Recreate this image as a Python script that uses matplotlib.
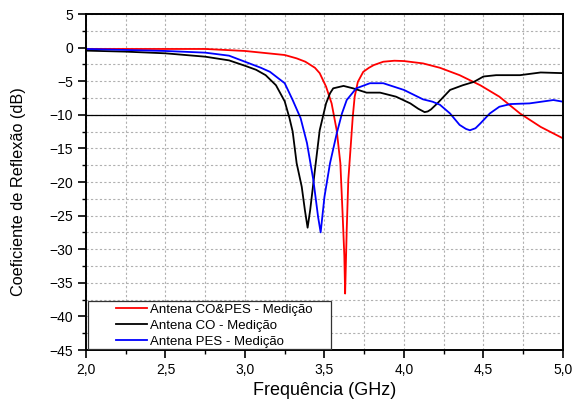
import matplotlib
matplotlib.use("Agg")
import matplotlib.pyplot as plt
from matplotlib.ticker import MultipleLocator
from matplotlib.patches import Rectangle

plt.rcParams['font.family'] = ['Liberation Sans', 'DejaVu Sans']

# Antena CO&PES - Medição
f_copes = [2.0, 2.5, 2.75, 3.0, 3.25, 3.325, 3.38, 3.44, 3.47, 3.51, 3.545, 3.577, 3.60,
           3.614, 3.625, 3.63, 3.64, 3.65, 3.665, 3.678, 3.69, 3.71, 3.744, 3.78, 3.81,
           3.87, 3.94, 4.0, 4.12, 4.226, 4.35, 4.48, 4.60, 4.73, 4.86, 5.0]
s_copes = [-0.2, -0.2, -0.2, -0.5, -1.1, -1.6, -2.1, -3.0, -3.8, -5.8, -8.3, -12.3, -17.2,
           -24.7, -31.0, -36.6, -27.1, -19.7, -14.7, -10.3, -7.3, -5.1, -3.6, -3.0, -2.6,
           -2.1, -1.95, -2.0, -2.35, -3.0, -4.1, -5.6, -7.3, -9.8, -11.8, -13.5]

# Antena CO - Medição
f_co = [2.0, 2.25, 2.5, 2.75, 2.9, 3.0, 3.07, 3.13, 3.195, 3.25, 3.28, 3.30, 3.325,
        3.357, 3.377, 3.394, 3.41, 3.44, 3.47, 3.51, 3.535, 3.555, 3.62, 3.68, 3.765,
        3.85, 3.95, 4.04, 4.09, 4.13, 4.15, 4.17, 4.21, 4.25, 4.29, 4.37, 4.44, 4.50,
        4.58, 4.73, 4.86, 5.0]
s_co = [-0.45, -0.6, -0.85, -1.35, -1.9, -2.7, -3.3, -4.1, -5.6, -8.0, -10.5, -12.5, -17.2,
        -20.7, -24.2, -26.8, -24.2, -18.2, -12.3, -8.3, -6.8, -6.06, -5.7, -6.06, -6.7,
        -6.7, -7.3, -8.3, -9.1, -9.6, -9.5, -9.2, -8.3, -7.3, -6.3, -5.6, -5.1, -4.3,
        -4.1, -4.1, -3.7, -3.8]

# Antena PES - Medição
f_pes = [2.0, 2.5, 2.75, 2.9, 3.0, 3.1, 3.157, 3.25, 3.30, 3.35, 3.39, 3.43, 3.46, 3.476,
         3.50, 3.535, 3.577, 3.61, 3.64, 3.70, 3.786, 3.87, 4.0, 4.12, 4.18, 4.226, 4.29,
         4.35, 4.39, 4.415, 4.45, 4.48, 4.54, 4.60, 4.67, 4.79, 4.94, 5.0]
s_pes = [-0.2, -0.5, -0.75, -1.2, -2.1, -3.0, -3.6, -5.3, -7.8, -10.5, -14.2, -19.7, -25.2,
         -27.5, -22.2, -17.2, -12.8, -9.8, -7.8, -6.06, -5.3, -5.3, -6.3, -7.7, -8.05, -8.5,
         -9.8, -11.5, -12.1, -12.3, -12.0, -11.3, -9.8, -8.8, -8.4, -8.3, -7.8, -8.05]

fig = plt.figure(figsize=(5.76, 4.05), dpi=100)
ax = fig.add_axes([0.1493, 0.1358, 0.828, 0.8296])

ax.plot(f_copes, s_copes, color='#ff0000', lw=1.3, label='Antena CO&PES - Medição')
ax.plot(f_co, s_co, color='black', lw=1.3, label='Antena CO - Medição')
ax.plot(f_pes, s_pes, color='#0000ff', lw=1.3, label='Antena PES - Medição')
ax.axhline(-10, color='black', lw=0.9)

ax.set_xlim(2.0, 5.0)
ax.set_ylim(-45, 5)
ax.xaxis.set_major_locator(MultipleLocator(0.5))
ax.xaxis.set_minor_locator(MultipleLocator(0.25))
ax.yaxis.set_major_locator(MultipleLocator(5))
ax.yaxis.set_minor_locator(MultipleLocator(2.5))
ax.set_xticks([2.0, 2.5, 3.0, 3.5, 4.0, 4.5, 5.0])
ax.set_xticklabels(['2,0', '2,5', '3,0', '3,5', '4,0', '4,5', '5,0'])
ax.grid(True, which='both', color='#b0b0b0', ls=(0, (2, 2)), lw=0.8)
ax.tick_params(which='major', direction='out', length=6, width=1.2, labelsize=10,
               top=False, right=False)
ax.tick_params(which='minor', direction='out', length=3, width=1.0)
for sp in ax.spines.values():
    sp.set_linewidth(1.4)

ax.set_xlabel('Frequência (GHz)', fontsize=13)
ax.set_ylabel('Coeficiente de Reflexão (dB)', fontsize=11.7)
ax.xaxis.set_label_coords(0.5, -0.095)
ax.yaxis.set_label_coords(-0.125, 0.47)

# legend frame is drawn separately: it is much wider than the entries
ax.add_patch(Rectangle((0.004, 0.003), 0.5094, 0.143, transform=ax.transAxes,
                       facecolor='white', edgecolor='#333333', lw=0.9, zorder=4))
leg = ax.legend(loc='lower left', bbox_to_anchor=(0.063, 0.006), fontsize=9.5,
                frameon=False, handlelength=2.35, handletextpad=0.25,
                labelspacing=0.3, borderpad=0.0, borderaxespad=0.0)
leg.set_zorder(5)

fig.savefig('out.png', dpi=100)
